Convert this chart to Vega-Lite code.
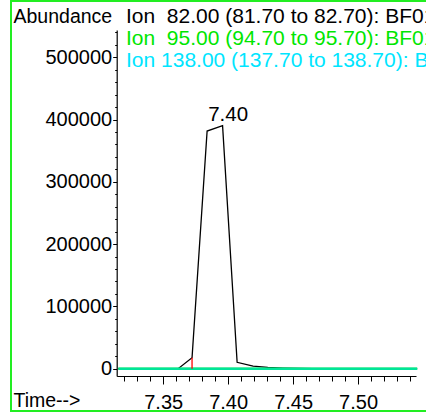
{
  "$schema": "https://vega.github.io/schema/vega-lite/v6.json",
  "width": 430,
  "height": 410,
  "autosize": {"type": "none"},
  "padding": {"left": 11, "top": 1, "right": 0, "bottom": 2},
  "background": "white",
  "config": {
    "view": {"stroke": "#22ee22", "strokeWidth": 2},
    "font": "Liberation Sans",
    "axis": {
      "labelFont": "Liberation Sans",
      "titleFont": "Liberation Sans",
      "labelFontSize": 20,
      "titleFontSize": 19.5,
      "labelColor": "#000000",
      "titleColor": "#000000",
      "domainColor": "#000000",
      "tickColor": "#000000",
      "titleFontWeight": "normal",
      "grid": false
    },
    "legend": {
      "orient": "none",
      "legendX": 94,
      "legendY": 5,
      "padding": 0,
      "offset": 0,
      "symbolSize": 0,
      "symbolStrokeWidth": 0,
      "symbolOpacity": 0,
      "labelOffset": 0,
      "labelFont": "Liberation Sans",
      "labelFontSize": 21,
      "labelLimit": 2000,
      "rowPadding": 0,
      "direction": "vertical"
    }
  },
  "datasets": {
    "trace": [
      {"ion": "82", "time": 7.3155, "abundance": 0},
      {"ion": "82", "time": 7.327, "abundance": 0},
      {"ion": "82", "time": 7.3385, "abundance": 0},
      {"ion": "82", "time": 7.35, "abundance": 0},
      {"ion": "82", "time": 7.3615, "abundance": 0},
      {"ion": "82", "time": 7.3722, "abundance": 17700},
      {"ion": "82", "time": 7.3838, "abundance": 381500},
      {"ion": "82", "time": 7.3957, "abundance": 390000},
      {"ion": "82", "time": 7.4069, "abundance": 10300},
      {"ion": "82", "time": 7.4192, "abundance": 4300},
      {"ion": "82", "time": 7.4305, "abundance": 2000},
      {"ion": "82", "time": 7.442, "abundance": 1000},
      {"ion": "82", "time": 7.4535, "abundance": 300},
      {"ion": "82", "time": 7.465, "abundance": 0},
      {"ion": "82", "time": 7.4765, "abundance": 0},
      {"ion": "82", "time": 7.488, "abundance": 0},
      {"ion": "82", "time": 7.4995, "abundance": 0},
      {"ion": "82", "time": 7.511, "abundance": 0},
      {"ion": "82", "time": 7.5225, "abundance": 0},
      {"ion": "82", "time": 7.534, "abundance": 0},
      {"ion": "82", "time": 7.5455, "abundance": 0},
      {"ion": "95", "time": 7.3155, "abundance": 0},
      {"ion": "95", "time": 7.327, "abundance": 0},
      {"ion": "95", "time": 7.3385, "abundance": 0},
      {"ion": "95", "time": 7.35, "abundance": 0},
      {"ion": "95", "time": 7.3615, "abundance": 0},
      {"ion": "95", "time": 7.373, "abundance": 0},
      {"ion": "95", "time": 7.3845, "abundance": 0},
      {"ion": "95", "time": 7.396, "abundance": 0},
      {"ion": "95", "time": 7.4075, "abundance": 0},
      {"ion": "95", "time": 7.419, "abundance": 0},
      {"ion": "95", "time": 7.4305, "abundance": 0},
      {"ion": "95", "time": 7.442, "abundance": 0},
      {"ion": "95", "time": 7.4535, "abundance": 0},
      {"ion": "95", "time": 7.465, "abundance": 0},
      {"ion": "95", "time": 7.4765, "abundance": 0},
      {"ion": "95", "time": 7.488, "abundance": 0},
      {"ion": "95", "time": 7.4995, "abundance": 0},
      {"ion": "95", "time": 7.511, "abundance": 0},
      {"ion": "95", "time": 7.5225, "abundance": 0},
      {"ion": "95", "time": 7.534, "abundance": 0},
      {"ion": "95", "time": 7.5455, "abundance": 0},
      {"ion": "138", "time": 7.3155, "abundance": 0},
      {"ion": "138", "time": 7.327, "abundance": 0},
      {"ion": "138", "time": 7.3385, "abundance": 0},
      {"ion": "138", "time": 7.35, "abundance": 0},
      {"ion": "138", "time": 7.3615, "abundance": 0},
      {"ion": "138", "time": 7.373, "abundance": 0},
      {"ion": "138", "time": 7.3845, "abundance": 0},
      {"ion": "138", "time": 7.396, "abundance": 0},
      {"ion": "138", "time": 7.4075, "abundance": 0},
      {"ion": "138", "time": 7.419, "abundance": 0},
      {"ion": "138", "time": 7.4305, "abundance": 0},
      {"ion": "138", "time": 7.442, "abundance": 0},
      {"ion": "138", "time": 7.4535, "abundance": 0},
      {"ion": "138", "time": 7.465, "abundance": 0},
      {"ion": "138", "time": 7.4765, "abundance": 0},
      {"ion": "138", "time": 7.488, "abundance": 0},
      {"ion": "138", "time": 7.4995, "abundance": 0},
      {"ion": "138", "time": 7.511, "abundance": 0},
      {"ion": "138", "time": 7.5225, "abundance": 0},
      {"ion": "138", "time": 7.534, "abundance": 0},
      {"ion": "138", "time": 7.5455, "abundance": 0}
    ],
    "integration": [{"time": 7.3722, "abundance": 17700}],
    "peak": [{"rt": 7.40, "abundance": 390000, "label": "7.40"}]
  },
  "layer": [
    {
      "data": {"name": "trace"},
      "transform": [{"filter": "datum.ion == '82'"}],
      "mark": {"type": "line", "strokeWidth": 1.3},
      "encoding": {
        "x": {
          "field": "time", "type": "quantitative",
          "scale": {"type": "linear", "domain": [7.3142, 7.5446], "range": [105.7, 405], "nice": false, "zero": false},
          "axis": {
            "orient": "bottom", "offset": -35,
            "values": [7.35, 7.4, 7.45, 7.5], "format": ".2f",
            "tickSize": 8, "labelPadding": 8, "domainWidth": 1.2,
            "title": "Time-->", "titleX": 2, "titleY": 30.7, "titleAlign": "left", "titleAnchor": "start", "titleBaseline": "alphabetic"
          }
        },
        "y": {
          "field": "abundance", "type": "quantitative",
          "scale": {"type": "linear", "domain": [-11700, 543700], "range": [375, 29], "nice": false, "zero": false},
          "axis": {
            "orient": "left", "offset": -105.7,
            "values": [0, 100000, 200000, 300000, 400000, 500000], "format": "d",
            "tickSize": 4, "labelPadding": 1, "domainWidth": 1.2,
            "title": "Abundance", "titleAngle": 0, "titleX": -103.7, "titleY": 21.5, "titleAlign": "left", "titleAnchor": "start", "titleBaseline": "alphabetic"
          }
        },
        "color": {
          "field": "ion", "type": "nominal",
          "scale": {"domain": ["82", "95", "138"], "range": ["#000000", "#00e600", "#00e5ff"]},
          "legend": {
            "title": null,
            "labelExpr": "datum.value == '82' ? 'Ion\u00a0 82.00 (81.70 to 82.70): BF0104.D' : datum.value == '95' ? 'Ion\u00a0 95.00 (94.70 to 95.70): BF0104.D' : 'Ion 138.00 (137.70 to 138.70): BF0104.D'",
            "encode": {"labels": {"update": {"fill": {"scale": "color", "field": "value"}}}}
          }
        }
      }
    },
    {
      "data": {"name": "trace"},
      "transform": [{"filter": "datum.ion == '95'"}],
      "mark": {"type": "line", "strokeWidth": 2.5},
      "encoding": {
        "x": {
          "field": "time", "type": "quantitative",
          "axis": {
            "orient": "bottom", "offset": -35, "domain": false, "labels": false, "title": null,
            "values": [7.32, 7.33, 7.34, 7.36, 7.37, 7.38, 7.39, 7.41, 7.42, 7.43, 7.44, 7.46, 7.47, 7.48, 7.49, 7.51, 7.52, 7.53, 7.54],
            "tickSize": 5
          }
        },
        "y": {
          "field": "abundance", "type": "quantitative",
          "axis": {
            "orient": "left", "offset": -105.7, "domain": false, "labels": false, "title": null,
            "values": [20000, 40000, 60000, 80000, 120000, 140000, 160000, 180000, 220000, 240000, 260000, 280000, 320000, 340000, 360000, 380000, 420000, 440000, 460000, 480000, 520000, 540000],
            "tickSize": 2
          }
        },
        "color": {"field": "ion", "type": "nominal"}
      }
    },
    {
      "data": {"name": "trace"},
      "transform": [{"filter": "datum.ion == '138'"}],
      "mark": {"type": "line", "strokeWidth": 2.5, "opacity": 0.6},
      "encoding": {
        "x": {"field": "time", "type": "quantitative", "axis": null},
        "y": {"field": "abundance", "type": "quantitative", "axis": null},
        "color": {"field": "ion", "type": "nominal"}
      }
    },
    {
      "data": {"name": "integration"},
      "mark": {"type": "rule", "color": "#ff0000", "strokeWidth": 1.3},
      "encoding": {
        "x": {"field": "time", "type": "quantitative", "axis": null},
        "y": {"field": "abundance", "type": "quantitative", "axis": null},
        "y2": {"datum": 0}
      }
    },
    {
      "data": {"name": "peak"},
      "mark": {"type": "text", "font": "Liberation Sans", "fontSize": 20.5, "align": "center", "baseline": "alphabetic", "dy": -5, "color": "#000000"},
      "encoding": {
        "x": {"field": "rt", "type": "quantitative", "axis": null},
        "y": {"field": "abundance", "type": "quantitative", "axis": null},
        "text": {"field": "label"}
      }
    }
  ],
  "resolve": {"axis": {"x": "independent", "y": "independent"}}
}
